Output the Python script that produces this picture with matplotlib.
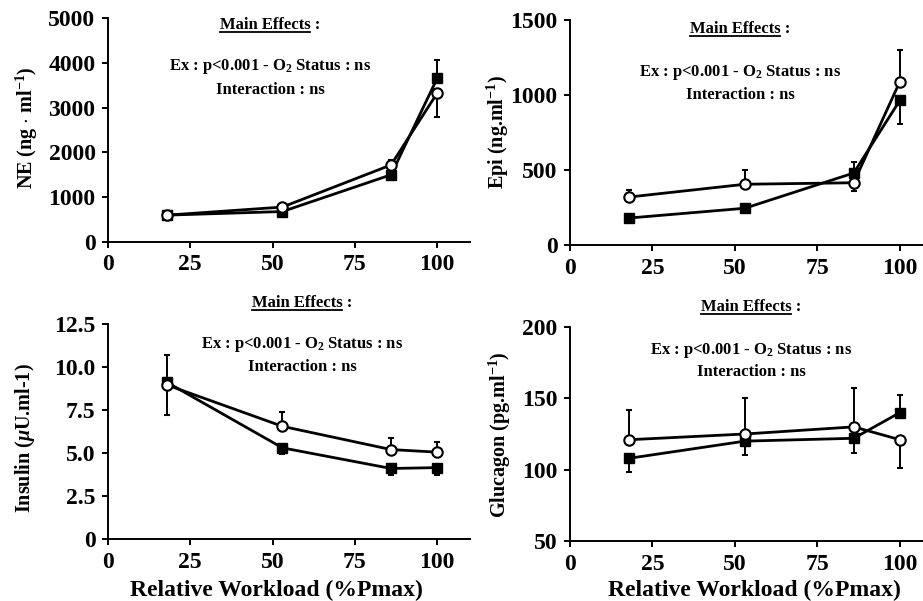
import matplotlib

matplotlib.use("Agg")
import matplotlib.pyplot as plt
from matplotlib.lines import Line2D

plt.rcParams["font.family"] = ["Liberation Serif", "DejaVu Serif"]
plt.rcParams["font.weight"] = "bold"
plt.rcParams["mathtext.fontset"] = "custom"
plt.rcParams["mathtext.rm"] = "Liberation Serif:bold"
plt.rcParams["mathtext.bf"] = "Liberation Serif:bold"
plt.rcParams["mathtext.it"] = "Liberation Serif:bold:italic"

# relative workload (% Pmax)
workload = [18, 53, 86, 100]

# NE
ne_sq = [600, 680, 1500, 3650]
ne_sq_lo = [0, 0, 60, 0]
ne_sq_hi = [0, 0, 0, 420]
ne_ci = [600, 780, 1720, 3320]
ne_ci_lo = [0, 0, 0, 530]
ne_ci_hi = [0, 0, 120, 0]

# Epi
epi_sq = [180, 245, 480, 965]
epi_sq_lo = [0, 0, 0, 155]
epi_sq_hi = [0, 0, 75, 0]
epi_ci = [320, 405, 415, 1090]
epi_ci_lo = [0, 0, 55, 0]
epi_ci_hi = [50, 95, 0, 210]

# Insulin
ins_sq = [9.1, 5.3, 4.1, 4.15]
ins_sq_lo = [0, 0.35, 0.4, 0.45]
ins_sq_hi = [0, 0, 0, 0]
ins_ci = [8.95, 6.55, 5.2, 5.05]
ins_ci_lo = [1.75, 0, 0, 0]
ins_ci_hi = [1.75, 0.85, 0.65, 0.6]

# Glucagon
glu_sq = [108, 120, 122, 140]
glu_sq_lo = [9.5, 10, 10, 0]
glu_sq_hi = [0, 0, 0, 12]
glu_ci = [121, 125, 130, 121]
glu_ci_lo = [0, 0, 0, 20]
glu_ci_hi = [21, 25, 27, 0]

x_ticks = [0, 25, 50, 75, 100]

W, H = 923, 601
STAT_SIZE = 12


def box(left, top, right, bottom):
    return [left / W, 1 - bottom / H, (right - left) / W, (bottom - top) / H]


def ftext(fig, x, y, s, size=STAT_SIZE):
    return fig.text(x / W, 1 - y / H, s, ha="center", va="center",
                    fontsize=size, fontweight="bold")


def panel(fig, rect, xmax, sq, sq_lo, sq_hi, ci, ci_lo, ci_hi, ylim, yticks, yticklabels):
    ax = fig.add_axes(rect)
    ax.errorbar(workload, sq, yerr=[sq_lo, sq_hi], color="black", lw=2.0,
                marker="s", ms=6.5, mfc="black", mec="black",
                elinewidth=1.4, capsize=2.5, capthick=1.4, zorder=3)
    ax.errorbar(workload, ci, yerr=[ci_lo, ci_hi], color="black", lw=2.0,
                marker="o", ms=7.5, mfc="white", mec="black", mew=1.5,
                elinewidth=1.4, capsize=2.5, capthick=1.4, zorder=4)
    ax.set_xlim(0, xmax)
    ax.set_ylim(*ylim)
    ax.set_xticks(x_ticks)
    ax.set_yticks(yticks)
    ax.set_yticklabels(yticklabels)
    for side in ("top", "right"):
        ax.spines[side].set_visible(False)
    for side in ("left", "bottom"):
        ax.spines[side].set_linewidth(1.4)
    ax.tick_params(direction="out", length=4, width=1.4, labelsize=17, pad=5)
    for lab in ax.get_xticklabels() + ax.get_yticklabels():
        lab.set_fontweight("bold")
    return ax


fig = plt.figure(figsize=(W / 100, H / 100), dpi=100)

panel(fig, box(108, 18, 470, 242), 110, ne_sq, ne_sq_lo, ne_sq_hi, ne_ci, ne_ci_lo, ne_ci_hi,
      (0, 5000), [0, 1000, 2000, 3000, 4000, 5000], ["0", "1000", "2000", "3000", "4000", "5000"])
panel(fig, box(570, 20, 923, 245), 107, epi_sq, epi_sq_lo, epi_sq_hi, epi_ci, epi_ci_lo, epi_ci_hi,
      (0, 1500), [0, 500, 1000, 1500], ["0", "500", "1000", "1500"])
panel(fig, box(108, 324, 470, 539), 110, ins_sq, ins_sq_lo, ins_sq_hi, ins_ci, ins_ci_lo, ins_ci_hi,
      (0, 12.5), [0, 2.5, 5.0, 7.5, 10.0, 12.5], ["0", "2.5", "5.0", "7.5", "10.0", "12.5"])
panel(fig, box(570, 327, 923, 541), 107, glu_sq, glu_sq_lo, glu_sq_hi, glu_ci, glu_ci_lo, glu_ci_hi,
      (50, 200), [50, 100, 150, 200], ["50", "100", "150", "200"])

# y labels
YL = 14.5
fig.text(27 / W, 1 - 128 / H, r"NE (ng $\cdot$ ml$^{\mathbf{-1}}$)", rotation=90,
         ha="center", va="center", fontsize=YL, fontweight="bold")
fig.text(498 / W, 1 - 132 / H, r"Epi (ng.ml$^{\mathbf{-1}}$)", rotation=90,
         ha="center", va="center", fontsize=YL, fontweight="bold")
fig.text(25 / W, 1 - 438 / H, r"Insulin ($\mathit{\mu}$U.ml-1)", rotation=90,
         ha="center", va="center", fontsize=YL, fontweight="bold")
fig.text(500 / W, 1 - 435 / H, r"Glucagon (pg.ml$^{\mathbf{-1}}$)", rotation=90,
         ha="center", va="center", fontsize=YL, fontweight="bold")

# x labels
ftext(fig, 276, 590, "Relative Workload (%Pmax)", size=17)
ftext(fig, 754, 590, "Relative Workload (%Pmax)", size=17)

# stats annotations
renderer = fig.canvas.get_renderer()
for cx, y0, y1, y2 in [(270, 25, 67, 90), (740, 29, 72, 95), (302, 303, 345, 367), (751, 307, 351, 372)]:
    t = ftext(fig, cx, y0, "Main Effects :")
    ftext(fig, cx, y1, r"Ex : p<0.001 - O$_{\mathbf{2}}$ Status : ns")
    ftext(fig, cx, y2, "Interaction : ns")
    # underline "Main Effects" (everything except the trailing " :")
    full = t.get_window_extent(renderer)
    tail = fig.text(0, 0, " :", fontsize=STAT_SIZE, fontweight="bold")
    tail_w = tail.get_window_extent(renderer).width
    tail.remove()
    x0, x1 = full.x0 / W, (full.x1 - tail_w) / W
    yl = (full.y0 + 1.5) / H
    fig.add_artist(Line2D([x0, x1], [yl, yl], transform=fig.transFigure,
                          color="black", lw=1.3))

fig.savefig("out.png", dpi=100)
